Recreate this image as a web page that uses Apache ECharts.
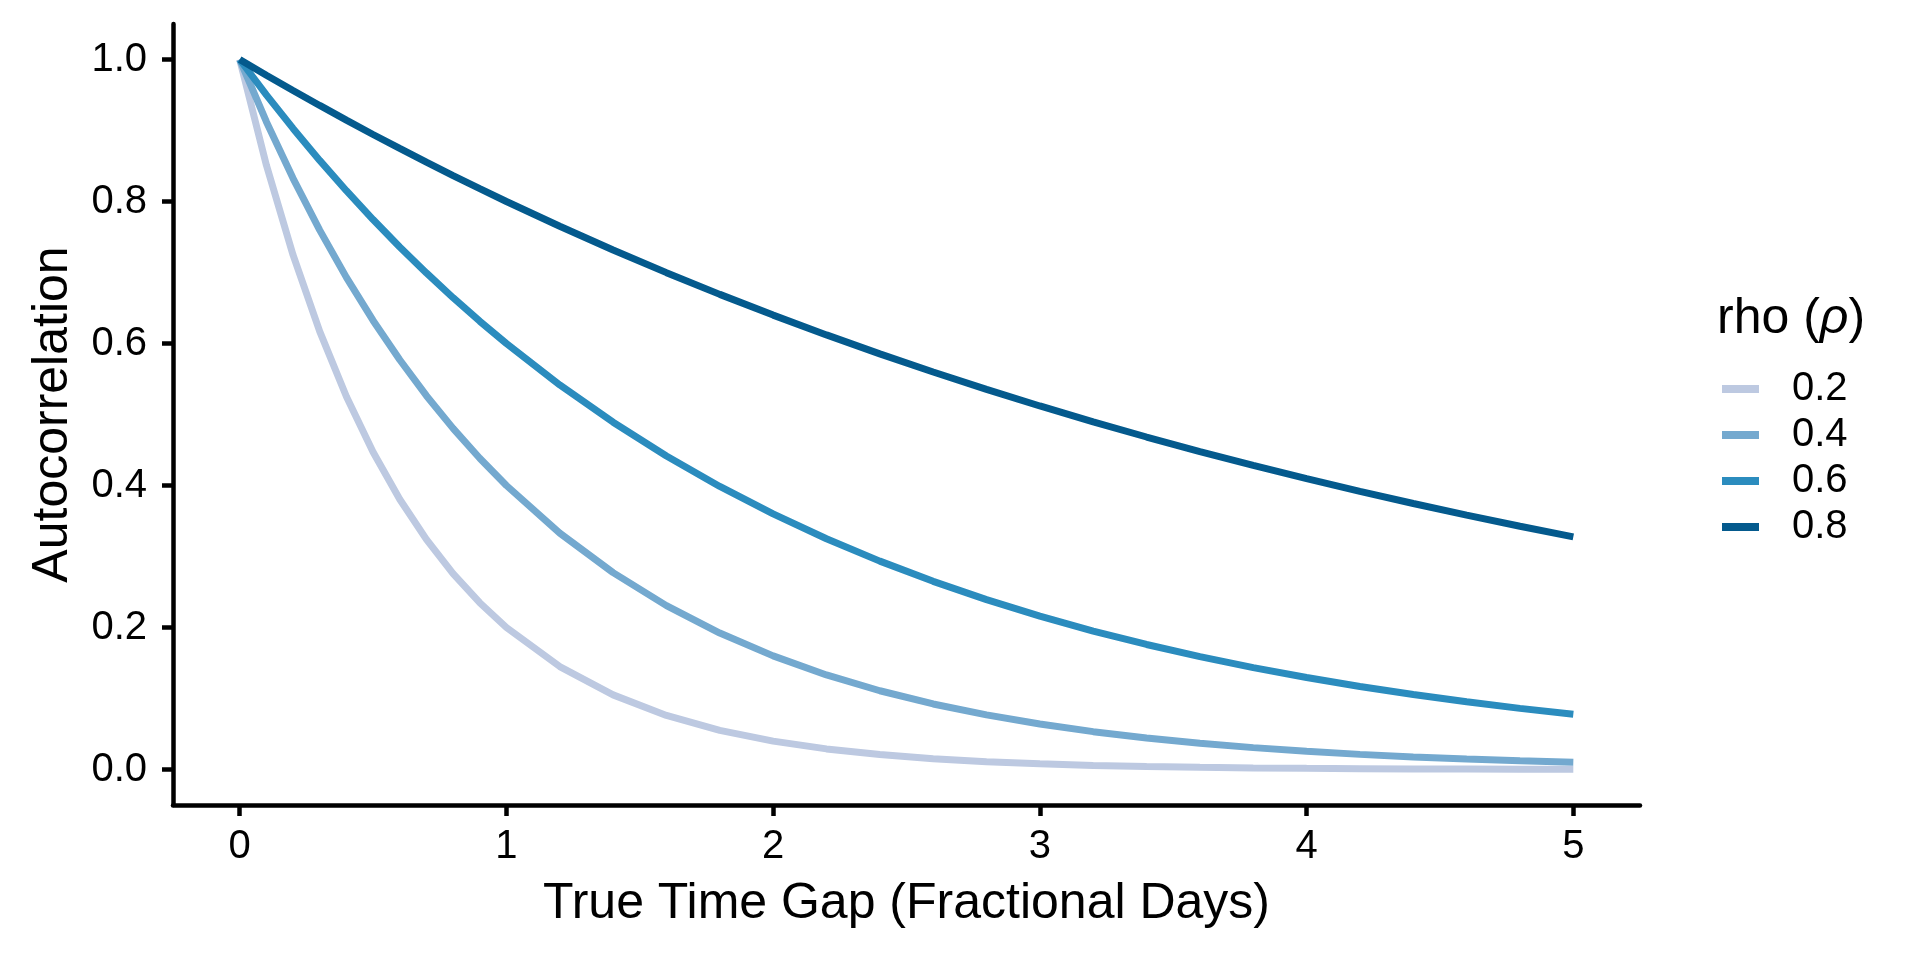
<!DOCTYPE html>
<html>
<head>
<meta charset="utf-8">
<script src="https://cdn.jsdelivr.net/npm/echarts@6/dist/echarts.min.js"></script>
<style>html,body{margin:0;padding:0;background:#fff}#c{width:1920px;height:960px}</style>
</head>
<body>
<div id="c"></div>
<script>
// Time gap values (fractional days)
const timeGaps = [0,0.1,0.2,0.3,0.4,0.5,0.6,0.7,0.8,0.9,1.0,1.2,1.4,1.6,1.8,2.0,2.2,2.4,2.6,2.8,3.0,3.2,3.4,3.6,3.8,4.0,4.2,4.4,4.6,4.8,5.0];
// Autocorrelation
const rho02 = [1,0.8513,0.7248,0.6170,0.5253,0.4472,0.3807,0.3241,0.2759,0.2349,0.2,0.1450,0.1051,0.0761,0.0552,0.04,0.0290,0.0210,0.0152,0.0110,0.008,0.0058,0.0042,0.0030,0.0022,0.0016,0.0012,0.0008,0.0006,0.0004,0.0003];
const rho04 = [1,0.9124,0.8326,0.7597,0.6931,0.6325,0.5771,0.5265,0.4805,0.4384,0.4,0.3330,0.2773,0.2308,0.1922,0.16,0.1332,0.1109,0.0923,0.0769,0.064,0.0533,0.0444,0.0369,0.0308,0.0256,0.0213,0.0177,0.0148,0.0123,0.0102];
const rho06 = [1,0.9502,0.9029,0.8579,0.8152,0.7746,0.7360,0.6994,0.6645,0.6314,0.6,0.5417,0.4891,0.4416,0.3987,0.36,0.3250,0.2935,0.2650,0.2392,0.216,0.1950,0.1761,0.1590,0.1435,0.1296,0.1170,0.1057,0.0954,0.0861,0.0778];
const rho08 = [1,0.9779,0.9564,0.9353,0.9146,0.8944,0.8747,0.8554,0.8365,0.8181,0.8,0.7651,0.7317,0.6998,0.6692,0.64,0.6121,0.5854,0.5598,0.5354,0.512,0.4897,0.4683,0.4478,0.4283,0.4096,0.3917,0.3746,0.3583,0.3426,0.3277];
const seriesNames = ['0.2','0.4','0.6','0.8'];
const seriesValues = [rho02, rho04, rho06, rho08];
const xTicks = [0,1,2,3,4,5];
const yTicks = [0,0.2,0.4,0.6,0.8,1.0];

const colors = ['#bdc9e1','#74a9cf','#2b8cbe','#045a8d'];
const FONT = '"Liberation Sans", Arial, sans-serif';

const chart = echarts.init(document.getElementById('c'));
const option = {
  animation: false,
  backgroundColor: '#ffffff',
  textStyle: { fontFamily: FONT },
  title: {
    text: '{a|rho (}{b|ρ}{a|)}',
    left: 1717,
    top: 291,
    padding: 0,
    textStyle: {
      fontWeight: 'normal',
      rich: {
        a: { fontSize: 50, fontFamily: FONT, fontWeight: 'normal', color: '#000', lineHeight: 56 },
        b: { fontSize: 50, fontFamily: FONT, fontWeight: 'normal', fontStyle: 'italic', color: '#000', lineHeight: 56 }
      }
    }
  },
  legend: {
    orient: 'vertical',
    left: 1722,
    top: 366,
    itemWidth: 37,
    itemHeight: 8,
    itemGap: 0,
    icon: 'rect',
    padding: 0,
    data: seriesNames,
    textStyle: { fontSize: 40, color: '#000', fontFamily: FONT, lineHeight: 46, padding: [0,0,0,28] }
  },
  grid: { left: 173, right: 280, top: 24, bottom: 155 },
  xAxis: {
    type: 'value',
    min: -0.25,
    max: 5.25,
    name: 'True Time Gap (Fractional Days)',
    nameLocation: 'middle',
    nameGap: 74,
    nameTextStyle: { fontSize: 50, color: '#000', fontFamily: FONT, lineHeight: 50 },
    axisLine: { show: true, onZero: false, lineStyle: { color: '#000', width: 4.5 } },
    axisTick: { show: true, customValues: xTicks, length: 11, lineStyle: { color: '#000', width: 4.5 } },
    axisLabel: { customValues: xTicks, color: '#000', fontSize: 40, margin: 22, fontFamily: FONT, lineHeight: 40 },
    splitLine: { show: false }
  },
  yAxis: {
    type: 'value',
    min: -0.05,
    max: 1.05,
    name: 'Autocorrelation',
    nameLocation: 'middle',
    nameGap: 95,
    nameTextStyle: { fontSize: 50, color: '#000', fontFamily: FONT, lineHeight: 50 },
    axisLine: { show: true, onZero: false, lineStyle: { color: '#000', width: 4.5 } },
    axisTick: { show: true, customValues: yTicks, length: 11, lineStyle: { color: '#000', width: 4.5 } },
    axisLabel: { customValues: yTicks, color: '#000', fontSize: 40, margin: 26, fontFamily: FONT, formatter: v => v.toFixed(1) },
    splitLine: { show: false }
  },
  series: seriesNames.map((name, k) => ({
    name: name,
    type: 'line',
    data: timeGaps.map((t, i) => [t, seriesValues[k][i]]),
    showSymbol: false,
    smooth: false,
    color: colors[k],
    itemStyle: { color: colors[k] },
    lineStyle: { color: colors[k], width: 7 },
    emphasis: { disabled: true }
  }))
};
chart.setOption(option);
</script>
</body>
</html>
